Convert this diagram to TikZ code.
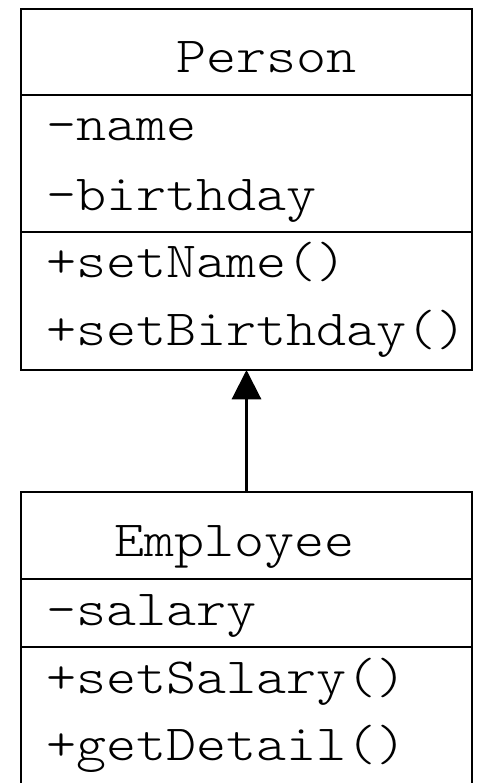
\documentclass[tikz,border=0pt]{standalone}
\usepackage{fontspec}
\setmonofont[FakeStretch=1.13]{lmmonolt10-regular.otf}
\usetikzlibrary{arrows.meta}
\begin{document}
\begin{tikzpicture}[x=0.75pt,y=-0.75pt,line width=1.6pt,
  classbox/.style={draw,line width=2pt,anchor=north west,inner sep=0pt,outer sep=0pt,minimum width=338.25pt},
  member/.style={anchor=base west,inner sep=0pt,font=\ttfamily\fontsize{38pt}{40pt}\selectfont}]
\useasboundingbox (0,0) rectangle (479,783);
\clip (0,0) rectangle (479,783);
% Person 类
\node[classbox,minimum height=270.75pt] (person) at (21,9) {};
\draw (person.west |- 0,95) -- (person.east |- 0,95);
\draw (person.west |- 0,232) -- (person.east |- 0,232);
\node[member] (pname) at (175,72) {Person};
\node[member] (pattr1) at (45,140) {-name};
\node[member] (pattr2) at (45,210) {-birthday};
\node[member] (pop1) at (45,277) {+setName()};
\node[member] (pop2) at (45,345) {+setBirthday()};

% Employee 类
\node[classbox,minimum height=220.5pt] (employee) at (21,492) {};
\draw (employee.west |- 0,579) -- (employee.east |- 0,579);
\draw (employee.west |- 0,647) -- (employee.east |- 0,647);
\node[member] (ename) at (113,556) {Employee};
\node[member] (eattr1) at (45,625) {-salary};
\node[member] (eop1) at (45,693) {+setSalary()};
\node[member] (eop2) at (45,760) {+getDetail()};

% 继承箭头
\draw[-{Triangle[length=22pt,width=22pt]}] (employee.north) -- (person.south);
\end{tikzpicture}
\end{document}
